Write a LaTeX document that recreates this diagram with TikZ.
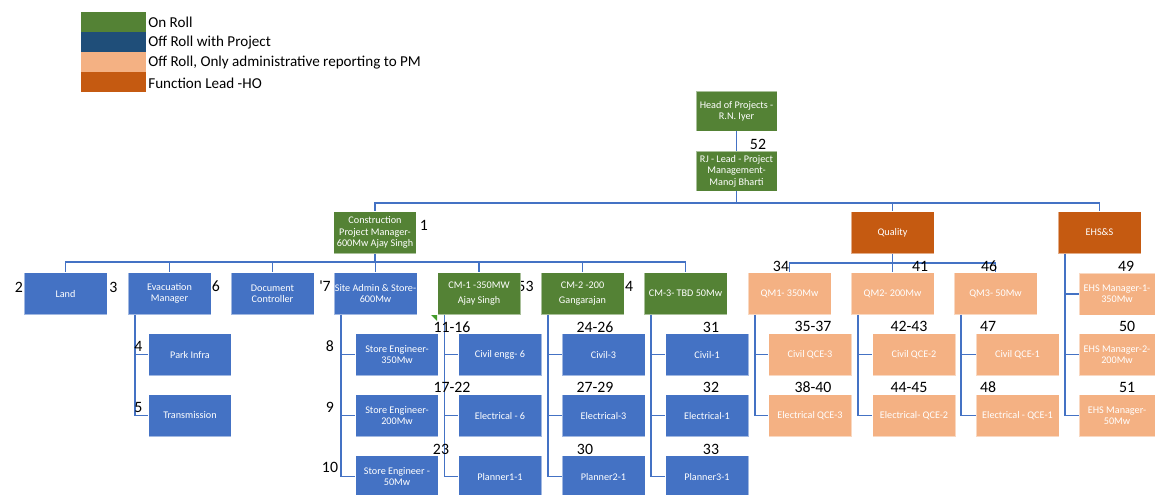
\documentclass[tikz,border=0pt]{standalone}
\usepackage{fontspec}
\setmainfont{Carlito}
\usepackage{tikz}

\definecolor{onroll}{HTML}{548235}
\definecolor{offproj}{HTML}{1F4E79}
\definecolor{offadmin}{HTML}{F4B183}
\definecolor{funclead}{HTML}{C55A11}
\definecolor{boxblue}{HTML}{4472C4}

\newcommand{\orgboxfont}{\fontsize{5.8}{6.5}\selectfont}
\newcommand{\countfont}{\fontsize{9}{10}\selectfont}
\newcommand{\legendfont}{\fontsize{8.6}{9.5}\selectfont}

\begin{document}
\begin{tikzpicture}[x=0.02cm, y=-0.02cm,
                    every node/.style={font=\orgboxfont},
                    box/.style={rectangle, draw=white, draw opacity=0.5, line width=0.4pt, text=white, align=center,
                                minimum width=1.66cm, minimum height=0.84cm, inner sep=0pt},
                    onbox/.style={box, fill=onroll},
                    projbox/.style={box, fill=boxblue},
                    adminbox/.style={box, fill=offadmin},
                    leadbox/.style={box, fill=funclead},
                    link/.style={draw=boxblue, line width=0.85pt},
                    count/.style={font=\countfont, inner sep=0pt},
                    swatch/.style={rectangle, minimum width=1.3cm, minimum height=0.4cm, inner sep=0pt},
                    legend/.style={font=\legendfont, anchor=west, inner sep=0pt}]

    \useasboundingbox (0,0) rectangle (1155,494);

    % Legend
    \node[swatch, fill=onroll]   (lg1) at (113.5,22) {};
    \node[swatch, fill=offproj]  (lg2) at (113.5,42) {};
    \node[swatch, fill=offadmin] (lg3) at (113.5,62) {};
    \node[swatch, fill=funclead] (lg4) at (113.5,82) {};
    \node[legend] (lt1) at (148,22) {On Roll};
    \node[legend] (lt2) at (148,43) {Off Roll with Project};
    \node[legend] (lt3) at (148,63) {Off Roll, Only administrative reporting to PM};
    \node[legend] (lt4) at (148,83) {Function Lead -HO};

    \node[count] (n53) at (525.5,286) {53}; % half hidden by CM-1

    % Top of the tree
    \node[onbox, minimum width=1.62cm, minimum height=0.8cm] (head) at (736.5,111) {Head of Projects -\\R.N. Iyer};
    \node[onbox, minimum width=1.62cm, minimum height=0.8cm] (rj) at (736.5,171) {RJ - Lead - Project\\Management-\\Manoj Bharti};
    \node[onbox] (cpm) at (375,232.5) {Construction\\Project Manager-\\600Mw Ajay Singh};
    \node[leadbox] (qual) at (892.5,232.5) {Quality};
    \node[leadbox] (ehs) at (1099.5,232.5) {EHS\&S};

    % Second row
    \node[projbox] (land) at (65.5,293.5) {Land};
    \node[projbox] (evac) at (169.5,293.5) {Evacuation\\Manager};
    \node[projbox] (doc) at (272.5,293.5) {Document\\Controller};
    \node[projbox] (site) at (375.5,293.5) {Site Admin \& Store-\\600Mw};
    \node[onbox] (cma) at (479,293.5) {CM-1 -350MW\\[2pt]Ajay Singh};
    \node[onbox] (cmb) at (582.5,293.5) {CM-2 -200\\[2pt]Gangarajan};
    \node[onbox] (cmc) at (685.5,293.5) {CM-3- TBD 50Mw};
    \node[adminbox] (qma) at (789.5,293.5) {QM1- 350Mw};
    \node[adminbox] (qmb) at (892.5,293.5) {QM2- 200Mw};
    \node[adminbox] (qmc) at (995.5,293.5) {QM3- 50Mw};
    \node[adminbox, minimum width=1.52cm] (ehsa) at (1117,294) {EHS Manager-1-\\350Mw};

    % Third row
    \node[projbox] (park) at (190,354.5) {Park Infra};
    \node[projbox] (sea) at (397,354.5) {Store Engineer-\\350Mw};
    \node[projbox] (civa) at (500,354.5) {Civil engg- 6};
    \node[projbox] (civb) at (603.5,354.5) {Civil-3};
    \node[projbox] (civc) at (707,354.5) {Civil-1};
    \node[adminbox] (qcea) at (810,354.5) {Civil QCE-3};
    \node[adminbox] (qceb) at (914,354.5) {Civil QCE-2};
    \node[adminbox] (qcec) at (1017.5,354.5) {Civil QCE-1};
    \node[adminbox, minimum width=1.52cm] (ehsb) at (1117,354.5) {EHS Manager-2-\\200Mw};

    % Fourth row
    \node[projbox] (trans) at (190,415.5) {Transmission};
    \node[projbox] (seb) at (397,415.5) {Store Engineer-\\200Mw};
    \node[projbox] (elea) at (500,415.5) {Electrical - 6};
    \node[projbox] (eleb) at (603.5,415.5) {Electrical-3};
    \node[projbox] (elec) at (707,415.5) {Electrical-1};
    \node[adminbox] (qeea) at (810,415.5) {Electrical QCE-3};
    \node[adminbox] (qeeb) at (914,415.5) {Electrical- QCE-2};
    \node[adminbox] (qeec) at (1017.5,415.5) {Electrical - QCE-1};
    \node[adminbox, minimum width=1.52cm] (ehsc) at (1117,415.5) {EHS Manager-\\50Mw};

    % Fifth row
    \node[projbox] (sec) at (397,476.5) {Store Engineer -\\50Mw};
    \node[projbox] (plna) at (500,476.5) {Planner1-1};
    \node[projbox] (plnb) at (603.5,476.5) {Planner2-1};
    \node[projbox] (plnc) at (707,476.5) {Planner3-1};

    % Connectors
    \coordinate (bus1) at (736.5,203);
    \coordinate (bus2) at (375,262);
    \coordinate (bus3) at (892.5,263);
    \draw[link] (head) -- (rj);
    \draw[link] (rj) -- (bus1);
    \foreach \n in {cpm,qual,ehs}
        \draw[link] (bus1) -| (\n.north);
    \draw[link] (cpm) -- (bus2);
    \foreach \n in {land,evac,doc,site,cma,cmb,cmc}
        \draw[link] (bus2) -| (\n.north);
    \draw[link] (qual) -- (bus3);
    \foreach \n in {qma,qmb,qmc}
        \draw[link] (bus3) -| (\n.north);

    \foreach \p/\c in {evac/park,evac/trans,
                       site/sea,site/seb,site/sec,
                       cma/civa,cma/elea,cma/plna,
                       cmb/civb,cmb/eleb,cmb/plnb,
                       cmc/civc,cmc/elec,cmc/plnc,
                       qma/qcea,qma/qeea,qmb/qceb,qmb/qeeb,qmc/qcec,qmc/qeec,
                       ehs/ehsa,ehs/ehsb,ehs/ehsc}
        \draw[link] ([xshift=0.15cm]\p.south west) |- (\c.west);

    % Position numbers
    \node[count] (n52) at (758,144) {52};
    \node[count] (n1) at (424,225) {1};
    \node[count] (n2) at (19,287) {2};
    \node[count] (n3) at (113.5,287) {3};
    \node[count] (n6) at (216,286) {6};
    \node[count] (n7) at (325,286) {\textquotesingle 7};
    \node[count] (n4a) at (629,286) {4};
    \node[count] (n34) at (781,266) {34};
    \node[count] (n41) at (920,266) {41};
    \node[count] (n46) at (989,266) {46};
    \node[count] (n49) at (1126,266) {49};
    \node[count] (n4b) at (138.5,346) {4};
    \node[count] (n5) at (138.5,407) {5};
    \node[count] (n8) at (330,346) {8};
    \node[count] (n9) at (330,407) {9};
    \node[count] (n10) at (330,467) {10};
    \node[count] (n1116) at (452,327) {11-16};
    \node[count] (n1722) at (452,387) {17-22};
    \node[count] (n23) at (441,449) {23};
    \node[count] (n2426) at (595,327) {24-26};
    \node[count] (n2729) at (595,387) {27-29};
    \node[count] (n30) at (585,449) {30};
    \node[count] (n31) at (711,327) {31};
    \node[count] (n32) at (711,387) {32};
    \node[count] (n33) at (711,449) {33};
    \node[count] (n3537) at (813,326) {35-37};
    \node[count] (n3840) at (813,387) {38-40};
    \node[count] (n4243) at (909,326) {42-43};
    \node[count] (n4445) at (909,387) {44-45};
    \node[count] (n47) at (988,326) {47};
    \node[count] (n48) at (988,387) {48};
    \node[count] (n50) at (1127,326) {50};
    \node[count] (n51) at (1127,387) {51};

    % comment marker
    \fill[onroll!80!green] (431,315) -- (437,315) -- (437,321) -- cycle;
\end{tikzpicture}
\end{document}
